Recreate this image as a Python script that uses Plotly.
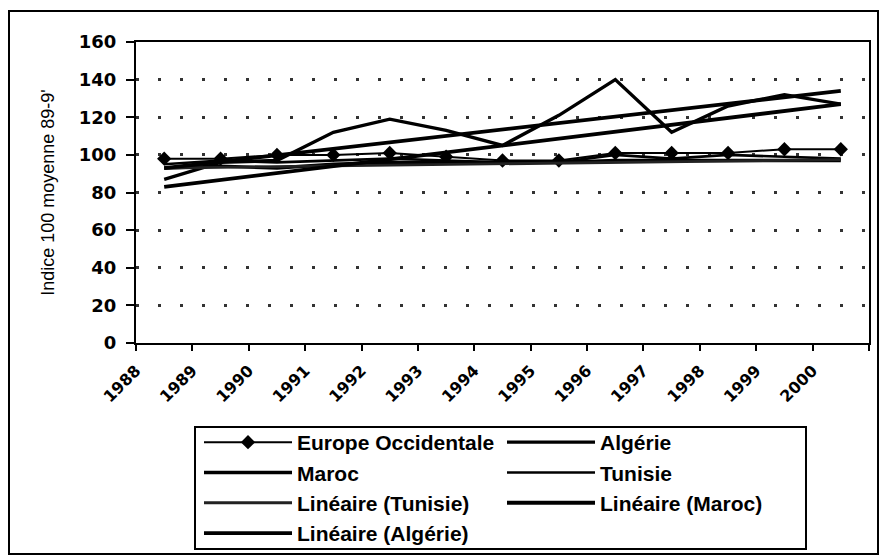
import plotly.graph_objects as go

# ---------------- data ----------------
years = [1988, 1989, 1990, 1991, 1992, 1993, 1994, 1995, 1996, 1997, 1998, 1999, 2000]
tick_labels = ["1988", "1989", "1990", "1991", "1992", "1993", "1994",
               "1995", "1996", "1997", "1998", "1999", "2000"]
europe = [98, 98, 100, 100, 101, 99, 97, 97, 101, 101, 101, 103, 103]
algerie = [87, 96, 97, 112, 119, 113, 105, 121, 140, 112, 126, 132, 127]
maroc = [93, 94, 93, 95, 96, 96, 96, 96, 97, 97, 97, 97, 97]
tunisie = [95, 97, 96, 97, 98, 97, 96, 96, 100, 98, 100, 99, 98]
trend_years = [1988, 2000]
lin_tunisie = [93, 97.5]
lin_maroc = [83, 127]
lin_algerie = [93, 134]

W, H = 880, 560
ML, MR, MT, MB = 136, 11, 42, 217
PW, PH = W - ML - MR, H - MT - MB


def px(x):
    return (x - ML) / PW


def py(y):
    return (H - MB - y) / PH


# x position = centre of each year's slot
xc = [y + 0.5 for y in years]
xt = [y + 0.5 for y in trend_years]

fig = go.Figure()
fig.add_trace(go.Scatter(x=xc, y=europe, name="Europe Occidentale", mode="lines+markers",
                         line=dict(color="black", width=2),
                         marker=dict(symbol="diamond", size=11, color="black")))
fig.add_trace(go.Scatter(x=xc, y=algerie, name="Algérie", mode="lines",
                         line=dict(color="black", width=3.4)))
fig.add_trace(go.Scatter(x=xc, y=maroc, name="Maroc", mode="lines",
                         line=dict(color="black", width=3.4)))
fig.add_trace(go.Scatter(x=xc, y=tunisie, name="Tunisie", mode="lines",
                         line=dict(color="black", width=2.6)))
fig.add_trace(go.Scatter(x=xt, y=lin_tunisie, name="Linéaire (Tunisie)", mode="lines",
                         line=dict(color="#222222", width=2.8)))
fig.add_trace(go.Scatter(x=xt, y=lin_maroc, name="Linéaire (Maroc)", mode="lines",
                         line=dict(color="black", width=3.8)))
fig.add_trace(go.Scatter(x=xt, y=lin_algerie, name="Linéaire (Algérie)", mode="lines",
                         line=dict(color="black", width=3.8)))

fig.update_layout(
    template="none",
    width=W, height=H,
    margin=dict(l=ML, r=MR, t=MT, b=MB, autoexpand=False),
    paper_bgcolor="white", plot_bgcolor="white",
    showlegend=True,
    legend=dict(
        orientation="h",
        x=px(199), y=py(422), xanchor="left", yanchor="top",
        font=dict(family="Liberation Sans", size=21, color="black", weight="bold"),
        itemwidth=88, entrywidth=200, entrywidthmode="pixels",
        bgcolor="rgba(0,0,0,0)", borderwidth=0,
        traceorder="normal",
    ),
    xaxis=dict(
        range=[1988, 2001], tickmode="array",
        tickvals=years + [2001], ticktext=tick_labels + [""],
        tickangle=-45, ticks="outside", ticklen=6, tickwidth=2, tickcolor="black",
        tickfont=dict(family="DejaVu Sans", size=16, color="black", weight="bold"),
        ticklabelstandoff=4,
        showline=True, linecolor="black", linewidth=2, mirror=True,
        showgrid=False, zeroline=False, automargin=False,
    ),
    yaxis=dict(
        range=[0, 160], tickmode="array", tickvals=[0, 20, 40, 60, 80, 100, 120, 140, 160],
        ticks="outside", ticklen=8, tickwidth=2, tickcolor="black",
        tickfont=dict(family="DejaVu Sans", size=18, color="black", weight="bold"),
        ticklabelstandoff=6,
        showline=True, linecolor="black", linewidth=2, mirror=True,
        showgrid=True, gridcolor="#333333", gridwidth=2.5, griddash="3px,19px",
        zeroline=False, automargin=False,
        title=dict(text="Indice 100 moyenne 89-9'", standoff=20,
                   font=dict(family="Liberation Sans", size=18, color="black")),
    ),
    shapes=[
        dict(type="rect", xref="paper", yref="paper",
             x0=px(9), x1=px(878), y0=py(554), y1=py(11),
             line=dict(color="black", width=2), layer="below"),
        dict(type="rect", xref="paper", yref="paper",
             x0=px(195), x1=px(806), y0=py(549), y1=py(427),
             line=dict(color="black", width=2), layer="below"),
    ],
)

fig.write_html("out.html", config={"displayModeBar": False},
               post_script="document.body.style.margin='0';")
